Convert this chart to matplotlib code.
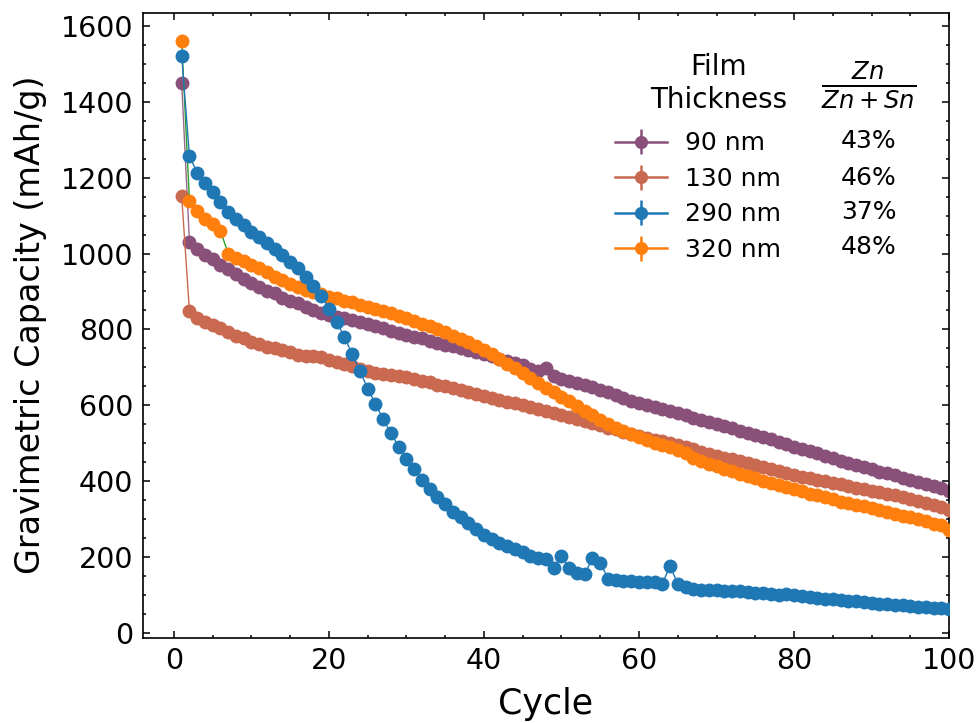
import numpy as np
import matplotlib
matplotlib.use("Agg")
import matplotlib.pyplot as plt
from matplotlib.ticker import MultipleLocator

cycles = np.arange(1, 101)

cap_90nm = [1449, 1031, 1011, 996, 985, 970, 958, 946, 932, 921,
            912, 902, 895, 884, 875, 869, 858, 851, 844, 838,
            833, 830, 825, 820, 815, 809, 803, 797, 791, 786,
            781, 776, 770, 765, 760, 755, 750, 745, 740, 735,
            729, 723, 717, 712, 705, 696, 691, 697, 676, 670,
            665, 659, 654, 648, 640, 634, 627, 620, 612, 606,
            601, 596, 591, 585, 579, 573, 567, 561, 556, 550,
            544, 539, 533, 528, 522, 516, 510, 504, 498, 491,
            485, 479, 473, 467, 460, 454, 448, 442, 437, 431,
            425, 420, 415, 409, 403, 398, 392, 387, 381, 375]

cap_130nm = [1152, 848, 831, 820, 811, 803, 794, 782, 776, 767,
             761, 754, 750, 746, 740, 733, 729, 730, 726, 720,
             715, 709, 703, 695, 690, 686, 683, 680, 677, 674,
             670, 665, 660, 654, 650, 645, 640, 634, 629, 624,
             619, 614, 609, 605, 600, 596, 591, 586, 580, 575,
             569, 564, 558, 553, 547, 541, 536, 530, 524, 518,
             513, 509, 506, 501, 496, 490, 484, 476, 472, 467,
             462, 457, 452, 447, 442, 437, 432, 427, 422, 417,
             411, 407, 403, 399, 395, 391, 386, 382, 378, 374,
             370, 366, 362, 358, 353, 348, 343, 338, 332, 325]

cap_290nm = [1522, 1257, 1213, 1187, 1163, 1137, 1109, 1091, 1075, 1058,
             1043, 1027, 1011, 996, 978, 961, 939, 915, 889, 855,
             820, 779, 735, 690, 644, 603, 563, 526, 491, 459,
             431, 404, 380, 359, 339, 319, 304, 289, 274, 259,
             246, 237, 229, 221, 212, 202, 196, 194, 172, 203,
             170, 157, 155, 196, 185, 143, 139, 137, 136, 135,
             134, 133, 128, 177, 128, 120, 115, 114, 113, 112,
             111, 110, 109, 108, 106, 104, 102, 100, 101, 99,
             96, 93, 91, 90, 88, 86, 84, 83, 81, 79,
             77, 76, 74, 73, 71, 69, 67, 66, 64, 63]

cap_320nm = [1560, 1139, 1112, 1091, 1078, 1060, 1000, 989, 981, 970,
             961, 950, 939, 930, 919, 912, 904, 899, 893, 886,
             882, 876, 871, 865, 859, 854, 849, 843, 836, 829,
             822, 815, 808, 800, 792, 783, 775, 766, 756, 746,
             735, 723, 710, 697, 684, 671, 659, 646, 634, 622,
             610, 598, 586, 574, 562, 551, 541, 531, 523, 515,
             508, 501, 495, 489, 482, 475, 462, 452, 446, 439,
             432, 426, 419, 413, 407, 401, 395, 389, 384, 378,
             373, 367, 362, 357, 352, 346, 341, 338, 333, 328,
             323, 319, 314, 309, 305, 300, 294, 288, 283, 271]

labels = ["90 nm", "130 nm", "290 nm", "320 nm"]
fractions = ["43%", "46%", "37%", "48%"]
series = [cap_90nm, cap_130nm, cap_290nm, cap_320nm]
marker_colors = ["#89517a", "#c9694f", "#1f77b4", "#ff7f0e"]
line_colors = ["#9a6a8c", "#c9694f", "#1f77b4", "#2ca02c"]
zorders = [2, 3, 5, 4]

fig = plt.figure(figsize=(9.79, 7.23), dpi=100)
ax = fig.add_axes([0.146, 0.118, 0.8234, 0.8644])

handles = []
for vals, mc, lc, z, lab in zip(series, marker_colors, line_colors, zorders, labels):
    ax.plot(cycles, vals, '-', color=lc, lw=1.0, zorder=z)
    ax.plot(cycles, vals, 'o', color=mc, ms=10, mew=0, zorder=z + 0.5)
    h = ax.errorbar([np.nan], [np.nan], yerr=[np.nan], fmt='-o', color=mc,
                    lw=1.8, ms=9.5, mew=0, elinewidth=1.8, label=lab)
    handles.append(h)

ax.set_xlim(-4, 100)
ax.set_ylim(-13, 1635)
ax.xaxis.set_major_locator(MultipleLocator(20))
ax.xaxis.set_minor_locator(MultipleLocator(5))
ax.yaxis.set_major_locator(MultipleLocator(200))
ax.yaxis.set_minor_locator(MultipleLocator(50))
ax.tick_params(which='both', direction='in', top=True, right=True, width=1.1)
ax.tick_params(which='major', length=5, labelsize=20.5, pad=7)
ax.tick_params(which='minor', length=2.5)
for sp in ax.spines.values():
    sp.set_linewidth(1.2)

ax.set_xlabel("Cycle", fontsize=25, labelpad=8)
ax.set_ylabel("Gravimetric Capacity (mAh/g)", fontsize=24, labelpad=10)

leg = ax.legend(handles=handles, labels=labels, loc='upper left',
                bbox_to_anchor=(0.573, 0.826), frameon=False, fontsize=18,
                handlelength=2.1, handletextpad=0.7, labelspacing=0.46,
                borderaxespad=0, borderpad=0.4)

ax.text(0.714, 0.887, "Film\nThickness", transform=ax.transAxes,
        ha='center', va='center', fontsize=20, linespacing=1.2)
ax.text(0.900, 0.884, r"$\frac{Zn}{Zn+Sn}$", transform=ax.transAxes,
        ha='center', va='center', fontsize=25)
row_y = [0.7947, 0.7355, 0.681, 0.625]
for ty, ft in zip(row_y, fractions):
    ax.text(0.900, ty, ft, transform=ax.transAxes, ha='center',
            va='center', fontsize=18)

fig.savefig("out.png", dpi=100)
